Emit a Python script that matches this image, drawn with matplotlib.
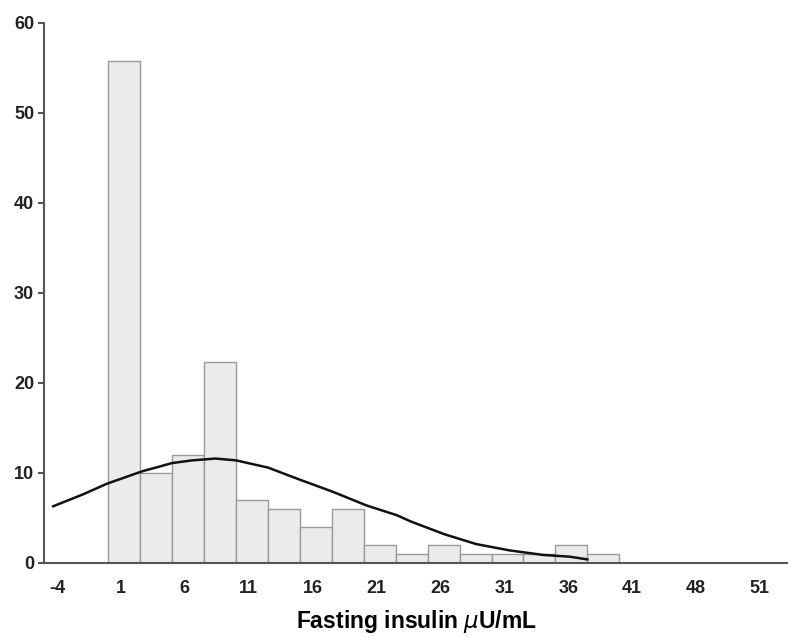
import numpy as np
import matplotlib.pyplot as plt

plt.rcParams['font.family'] = ['Liberation Sans', 'DejaVu Sans']

# histogram bins (fasting insulin, uU/mL) and counts
bin_edges = [0, 2.5, 5, 7.5, 10, 12.5, 15, 17.5, 20, 22.5, 25, 27.5, 30, 32.5, 35, 37.5, 40]
counts = [55.8, 10, 12, 22.3, 7, 6, 4, 6, 2, 1, 2, 1, 1, 1, 2, 1]

# fitted normal curve
curve_x = [-4.3, -2, -0.1, 1.5, 2.7, 4, 5.0, 6.6, 8.4, 10.0, 12.5, 15.1, 17.6,
           20.2, 22.6, 23.7, 26.3, 28.8, 31.4, 34.0, 36.1, 37.5]
curve_y = [6.3, 7.6, 8.8, 9.6, 10.2, 10.7, 11.1, 11.4, 11.6, 11.4, 10.6, 9.2, 7.9,
           6.4, 5.3, 4.6, 3.2, 2.1, 1.4, 0.9, 0.7, 0.4]

tick_pos = [-4, 1, 6, 11, 16, 21, 26, 31, 36, 41, 46, 51]
tick_labels = ['-4', '1', '6', '11', '16', '21', '26', '31', '36', '41', '48', '51']

fig = plt.figure(figsize=(7.88, 6.37), dpi=100)
ax = fig.add_axes([0.0558, 0.1162, 0.9442, 0.848])

left = np.array(bin_edges[:-1])
widths = np.diff(bin_edges)
ax.bar(left, counts, width=widths, align='edge', color='#ebebeb',
       edgecolor='#9a9a9a', linewidth=1.0)
ax.plot(curve_x, curve_y, color='#111111', linewidth=1.8)

ax.set_xlim(-5.02, 53.2)
ax.set_ylim(0, 60)
ax.set_xticks(tick_pos)
ax.set_xticklabels(tick_labels)
ax.set_yticks([0, 10, 20, 30, 40, 50, 60])

for s in ['top', 'right']:
    ax.spines[s].set_visible(False)
for s in ['left', 'bottom']:
    ax.spines[s].set_color('#555555')
    ax.spines[s].set_linewidth(1.5)

ax.tick_params(axis='x', length=0, pad=12, labelsize=13)
ax.tick_params(axis='y', length=4, width=1.5, color='#555555', pad=3, labelsize=13)
for lab in ax.get_xticklabels() + ax.get_yticklabels():
    lab.set_fontweight('bold')
    lab.set_color('#222222')

ax.set_xlabel(r'Fasting insulin $\mu$U/mL', fontsize=16.5, fontweight='bold', labelpad=8)

fig.savefig('out.png', dpi=100)
